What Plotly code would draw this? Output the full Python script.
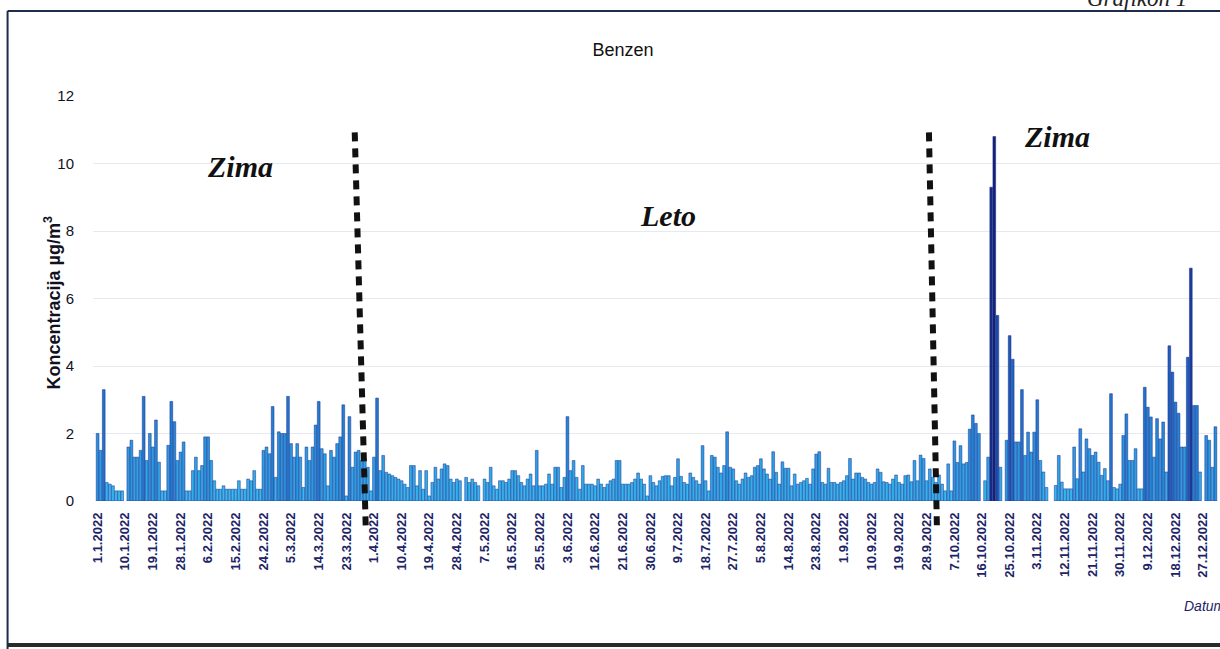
import pandas as pd
import plotly.graph_objects as go

# Daily benzene concentrations (µg/m³) for 2022, one list per month; None = no measurement
jan = [2.0, 1.5, 3.3, 0.55, 0.5, 0.45, 0.3, 0.3, 0.3, None, 1.6, 1.8, 1.3, 1.3, 1.5, 3.1,
       1.2, 2.0, 1.6, 2.4, 1.15, 0.3, 0.3, 1.65, 2.95, 2.35, 1.2, 1.45, 1.75, 0.3, 0.3]
feb = [0.9, 1.3, 0.9, 1.05, 1.9, 1.9, 1.2, 0.6, 0.35, 0.35, 0.45, 0.35, 0.35, 0.35, 0.35,
       0.6, 0.35, 0.35, 0.65, 0.6, 0.9, 0.35, 0.35, 1.5, 1.6, 1.4, 2.8, 0.7]
mar = [2.05, 2.0, 2.0, 3.1, 1.7, 1.3, 1.7, 1.3, 0.4, 1.6, 1.2, 1.6, 2.25, 2.95, 1.55, 1.4,
       0.45, 1.5, 1.3, 1.7, 1.9, 2.85, 0.15, 2.5, 1.0, 1.45, 1.5, 1.2, 1.25, 1.0, 0.3]
apr = [1.3, 3.05, 0.9, 1.35, 0.85, 0.8, 0.75, 0.7, 0.65, 0.6, 0.5, 0.4, 1.05, 1.05, 0.45,
       0.9, 0.35, 0.9, 0.15, 0.55, 1.0, 0.65, 0.95, 1.1, 1.05, 0.65, 0.55, 0.65, 0.6, None]
may = [0.7, 0.55, 0.65, 0.55, 0.45, None, 0.65, 0.55, 1.0, 0.45, 0.35, 0.6, 0.6, 0.55, 0.65,
       0.9, 0.9, 0.75, 0.55, 0.45, 0.65, 0.8, 0.45, 1.5, 0.45, 0.45, 0.5, 0.8, 0.5, 1.0, 1.0]
jun = [0.4, 0.7, 2.5, 0.9, 1.2, 0.7, 0.35, 1.05, 0.5, 0.5, 0.5, 0.45, 0.65, 0.5, 0.4, 0.5,
       0.6, 0.65, 1.2, 1.2, 0.5, 0.5, 0.5, 0.55, 0.65, 0.83, 0.65, 0.5, 0.15, 0.75]
jul = [0.55, 0.45, 0.6, 0.73, 0.75, 0.75, 0.45, 0.7, 1.25, 0.73, 0.55, 0.5, 0.83, 0.7, 0.6,
       0.5, 1.64, 0.6, 0.3, 1.35, 1.3, 1.0, 0.83, 1.05, 2.05, 1.0, 0.95, 0.6, 0.5, 0.65, 0.83]
aug = [0.7, 0.75, 1.0, 1.05, 1.25, 0.95, 0.8, 0.65, 1.46, 0.85, 0.5, 1.16, 0.97, 0.97, 0.45,
       0.8, 0.5, 0.55, 0.6, 0.67, 0.5, 0.95, 1.39, 1.46, 0.55, 0.5, 0.97, 0.55, 0.55, 0.5, 0.55]
sep = [0.6, 0.75, 1.26, 0.65, 0.83, 0.83, 0.7, 0.65, 0.55, 0.5, 0.55, 0.95, 0.85, 0.57, 0.55,
       0.5, 0.65, 0.77, 0.55, 0.5, 0.75, 0.77, 0.57, 1.2, 0.6, 1.36, 1.26, 0.6, 0.95, 0.7]
oct_ = [0.55, 0.77, 0.5, 0.3, 1.1, 0.3, 1.78, 1.14, 1.64, 1.1, 1.14, 2.13, 2.55, 2.3, 2.0,
        None, 0.6, 1.3, 9.3, 10.8, 5.5, 1.0, None, 1.8, 4.9, 4.2, 1.75, 1.75, 3.3, 1.35, 2.04]
nov = [1.45, 2.04, 3.0, 1.2, 0.86, 0.4, None, None, 0.46, 1.35, 0.56, 0.36, 0.36, 0.36, 1.6,
       0.66, 2.14, 0.86, 1.84, 1.55, 1.35, 1.45, 1.15, 0.76, 0.96, 0.6, 3.18, 0.4, 0.36, 0.5]
dec = [1.94, 2.58, 1.2, 1.2, 1.55, 0.36, 0.36, 3.37, 2.78, 2.49, 1.3, 2.44, 1.84, 2.34, 0.86,
       4.6, 3.82, 2.93, 2.6, 1.6, 1.6, 4.26, 6.9, 2.83, 2.83, 0.86, None, 1.94, 1.8, 1.0, 2.2]

# Date categories and axis ticks (every 9th day)
dates = pd.date_range("2022-01-01", "2022-12-31", freq="D")
days = [f"{d.day}.{d.month}.{d.year}" for d in dates]
tick_labels = days[::9]
y_ticks = [0, 2, 4, 6, 8, 10, 12]

# Season boundary markers (category index at top and bottom of the dotted line)
season_lines = [(83.7, 87.3), (270.7, 273.3)]
season_labels = [("Zima", 0.099, 0.872), ("Leto", 0.510, 0.751), ("Zima", 0.886, 0.946)]

values = jan + feb + mar + apr + may + jun + jul + aug + sep + oct_ + nov + dec
shade = [v if v is not None else 0 for v in values]

fig = go.Figure(
    go.Bar(
        x=days,
        y=values,
        marker=dict(
            color=shade,
            colorscale=[[0, "#3cc2f2"], [0.1, "#2fa8e6"], [0.3, "#2272c8"], [0.6, "#1b3d9a"],
                        [1, "#141f70"]],
            cmin=0,
            cmax=11,
            line=dict(color="#1b2f92", width=0.5),
        ),
        showlegend=False,
    )
)

shapes = []
for top, bottom in season_lines:
    shapes.append(dict(
        type="line", xref="x", yref="paper",
        x0=bottom, y0=-0.06, x1=top, y1=0.918,
        line=dict(color="#111111", width=6, dash="9px,7px"),
    ))
# page frame
shapes += [
    dict(type="line", xref="paper", yref="paper", x0=-0.0758, x1=1.01, y0=1.2099, y1=1.2099,
         line=dict(color="#1c2c4a", width=2)),
    dict(type="line", xref="paper", yref="paper", x0=-0.0758, x1=-0.0758, y0=1.2099, y1=-0.37,
         line=dict(color="#1c2c4a", width=2)),
    dict(type="line", xref="paper", yref="paper", x0=-0.0758, x1=1.01, y0=-0.3556, y1=-0.3556,
         line=dict(color="#2a2a2a", width=4)),
]

annotations = [
    dict(text=name, x=ax, y=ay, xref="paper", yref="paper", showarrow=False,
         font=dict(family="Liberation Serif", size=30, color="#111111",
                   weight="bold", style="italic"))
    for name, ax, ay in season_labels
]
annotations += [
    dict(text="Koncentracija µg/m<sup>3</sup>", x=-0.0475, y=0.49, xref="paper", yref="paper",
         textangle=-90, showarrow=False,
         font=dict(family="Liberation Sans", size=18, color="#111122", weight="bold")),
    dict(text="Datum", x=0.966, y=-0.284, xref="paper", yref="paper", xanchor="left",
         showarrow=False,
         font=dict(family="Liberation Sans", size=14, color="#1c2466", style="italic")),
    dict(text="Grafikon 1", x=0.880, y=1.205, xref="paper", yref="paper", xanchor="left",
         yanchor="bottom", showarrow=False,
         font=dict(family="Liberation Serif", size=23, color="#222222", style="italic")),
]

fig.update_layout(
    width=1220,
    height=649,
    margin=dict(l=93, r=0, t=96, b=148),
    paper_bgcolor="white",
    plot_bgcolor="white",
    bargap=0.1,
    title=dict(text="Benzen", x=0.5107, y=0.923, xanchor="center", yanchor="middle",
               font=dict(family="Liberation Sans", size=18, color="#111111")),
    shapes=shapes,
    annotations=annotations,
    xaxis=dict(
        type="category",
        range=[-1.5, 365.5],
        tickmode="array",
        tickvals=tick_labels,
        ticktext=tick_labels,
        tickangle=-90,
        ticks="",
        ticklabelstandoff=8,
        showgrid=False,
        zeroline=False,
        showline=False,
        tickfont=dict(family="Liberation Sans", size=13, color="#1c2466", weight="bold"),
    ),
    yaxis=dict(
        range=[0, 12],
        tickmode="array",
        tickvals=y_ticks,
        ticks="",
        ticklabelstandoff=18,
        showgrid=True,
        gridcolor="rgba(185,192,205,0.35)",
        gridwidth=1,
        zeroline=False,
        showline=False,
        tickfont=dict(family="Liberation Sans", size=15, color="#111122"),
    ),
)

fig.write_html("out.html")
